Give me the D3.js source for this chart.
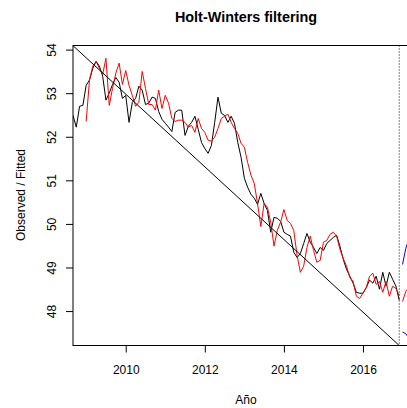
<!DOCTYPE html>
<html>
<head>
<meta charset="utf-8">
<script src="https://cdn.jsdelivr.net/npm/d3@7"></script>
<style>
  body { margin: 0; background: #fff; }
  #chart { width: 407px; height: 408px; overflow: hidden; }
  svg { display: block; font-family: 'Liberation Sans', Arial, Helvetica, sans-serif; }
</style>
</head>
<body>
<div id="chart"></div>
<script>
// monthly series, Sep 2008 .. Dec 2016
const startYear = 2008 + 8 / 12;

const observed = [
  52.49, 52.22, 52.70, 52.72, 53.18, 53.30, 53.57, 53.73, 53.62, 53.39,
  52.84, 53.00, 53.20, 53.36, 53.25, 52.88, 52.95, 52.33, 52.79, 52.88,
  53.16, 53.07, 52.74, 52.77, 52.91, 52.88, 52.58, 52.40, 52.31, 52.22,
  52.12, 52.56, 52.61, 52.61, 52.03, 52.24, 52.33, 52.47, 52.17, 51.87,
  51.73, 51.62, 51.80, 52.33, 52.91, 52.54, 52.49, 52.33, 52.47, 52.31,
  51.87, 51.53, 51.05, 50.84, 50.68, 50.59, 50.45, 50.70, 50.47, 50.31,
  49.81, 50.15, 50.13, 50.06, 49.81, 49.76, 49.72, 49.35, 49.23, 49.32,
  49.55, 49.78, 49.58, 49.46, 49.32, 49.46, 49.39, 49.55, 49.62, 49.69,
  49.74, 49.49, 49.19, 48.96, 48.80, 48.64, 48.43, 48.41, 48.41, 48.54,
  48.71, 48.64, 48.80, 48.50, 48.89, 48.57, 48.89, 48.73, 48.57, 48.25
];

// fitted values start 4 months after the first observation
const fittedOffset = 4;
const fitted = [
  52.35, 53.30, 53.62, 53.73, 53.57, 53.43, 53.80, 52.72, 53.11, 53.46,
  53.69, 53.20, 53.52, 53.18, 52.95, 52.70, 52.79, 53.50, 53.11, 52.74,
  52.74, 52.61, 53.07, 52.65, 52.95, 52.77, 52.42, 52.35, 52.38, 52.38,
  52.33, 52.22, 52.26, 52.10, 52.42, 52.19, 52.10, 51.92, 51.90, 51.99,
  52.19, 52.42, 52.47, 52.52, 52.33, 52.19, 52.08, 51.85, 51.76, 51.41,
  51.12, 50.93, 50.47, 49.94, 50.47, 50.38, 50.04, 49.49, 49.85, 50.04,
  50.33, 50.08, 50.01, 49.85, 49.28, 48.89, 49.03, 49.46, 49.72, 49.39,
  49.12, 49.16, 49.58, 49.62, 49.76, 49.81, 49.72, 49.42, 49.21, 49.03,
  48.77, 48.68, 48.34, 48.29, 48.41, 48.54, 48.80, 48.87, 48.61, 48.68,
  48.43, 48.68, 48.34, 48.57, 48.52, 48.36
];

// forecast Jan 2017 .. Jun 2017
const predicted = [48.22, 48.45, 48.55, 48.50, 48.60, 48.58];
const upperBound = [49.07, 49.44, 49.67, 49.90, 50.10, 50.30];
const lowerBound = [47.52, 47.48, 47.37, 47.25, 47.10, 46.95];

// straight reference line
const refLine = [
  { x: 2008.667, y: 54.09 },
  { x: 2016.917, y: 47.21 }
];

const xTicks = [2010, 2012, 2014, 2016];
const yTicks = [48, 49, 50, 51, 52, 53, 54];

const title = 'Holt-Winters filtering';
const xlabel = 'Año';
const ylabel = 'Observed / Fitted';

function toXY(values, offset) {
  return values.map((v, i) => ({ x: startYear + (offset + i) / 12, y: v }));
}

const chartProps = {};
chartProps.margin = { top: 45.5, left: 73, right: -12, bottom: 62.5 };
chartProps.width = 407 - chartProps.margin.left - chartProps.margin.right;
chartProps.height = 408 - chartProps.margin.top - chartProps.margin.bottom;

const svg = d3.select('#chart')
  .append('svg')
  .attr('width', 407)
  .attr('height', 408);

const figure = svg.append('g')
  .attr('transform', 'translate(' + chartProps.margin.left + ', ' + chartProps.margin.top + ')');

// title
svg.append('text')
  .attr('x', 246)
  .attr('y', 21.5)
  .style('text-anchor', 'middle')
  .style('font-weight', 'bold')
  .style('font-size', '14.4px')
  .text(title);

// xlabel
svg.append('text')
  .attr('x', 246)
  .attr('y', 404)
  .style('text-anchor', 'middle')
  .style('font-size', '12px')
  .text(xlabel);

// ylabel
svg.append('text')
  .attr('transform', 'translate(25, 195) rotate(-90)')
  .style('text-anchor', 'middle')
  .style('font-size', '12px')
  .text(ylabel);

// Set the ranges
const lastObs = startYear + (observed.length - 1) / 12;
const lastPred = lastObs + predicted.length / 12;

chartProps.xscale = d3.scaleLinear()
  .domain([startYear, lastPred])
  .range([0, chartProps.width]);

chartProps.yscale = d3.scaleLinear()
  .domain([47.21, 54.094])
  .range([chartProps.height, 0]);

chartProps.line = d3.line()
  .x(d => chartProps.xscale(d.x))
  .y(d => chartProps.yscale(d.y));

figure.append('clipPath')
  .attr('id', 'plotclip')
  .append('rect')
  .attr('width', chartProps.width)
  .attr('height', chartProps.height);

const plot = figure.append('g')
  .attr('clip-path', 'url(#plotclip)');

plot.append('path')
  .datum(toXY(observed, 0))
  .attr('d', chartProps.line)
  .attr('fill', 'none')
  .attr('stroke', 'black');

plot.append('path')
  .datum(toXY(fitted, fittedOffset))
  .attr('d', chartProps.line)
  .attr('fill', 'none')
  .attr('stroke', '#ff0000');

plot.append('path')
  .datum(toXY(predicted, observed.length))
  .attr('d', chartProps.line)
  .attr('fill', 'none')
  .attr('stroke', '#ff0000');

[upperBound, lowerBound].forEach(b => {
  plot.append('path')
    .datum(toXY(b, observed.length))
    .attr('d', chartProps.line)
    .attr('fill', 'none')
    .attr('stroke', '#0000ff');
});

plot.append('path')
  .datum(refLine)
  .attr('d', chartProps.line)
  .attr('fill', 'none')
  .attr('stroke', 'black');

// end of observed data
plot.append('line')
  .attr('x1', chartProps.xscale(lastObs))
  .attr('x2', chartProps.xscale(lastObs))
  .attr('y1', 0)
  .attr('y2', chartProps.height)
  .attr('stroke', 'black')
  .attr('stroke-dasharray', '1,2');

// axes
chartProps.xAxis = d3.axisBottom(chartProps.xscale)
  .tickValues(xTicks)
  .tickFormat(d3.format('d'))
  .tickSize(7)
  .tickSizeOuter(0)
  .tickPadding(13);

chartProps.yAxis = d3.axisLeft(chartProps.yscale)
  .tickValues(yTicks)
  .tickFormat(d3.format('d'))
  .tickSize(7)
  .tickSizeOuter(0);

const gx = figure.append('g')
  .attr('class', 'xAxis')
  .attr('transform', `translate(0,${chartProps.height})`)
  .call(chartProps.xAxis);

const gy = figure.append('g')
  .attr('class', 'yAxis')
  .call(chartProps.yAxis);

[gx, gy].forEach(g => {
  g.select('.domain').remove();
  g.selectAll('text')
    .attr('fill', 'black')
    .style('font-size', '12px')
    .style('font-family', "'Liberation Sans', Arial, Helvetica, sans-serif");
  g.selectAll('line').attr('stroke', 'black');
});

// rotated y tick labels, R style
gy.selectAll('text')
  .attr('x', null)
  .attr('dy', null)
  .attr('transform', 'translate(-17,0) rotate(-90)')
  .style('text-anchor', 'middle');

// box
figure.append('rect')
  .attr('width', chartProps.width)
  .attr('height', chartProps.height)
  .attr('fill', 'none')
  .attr('stroke', 'black');
</script>
</body>
</html>
